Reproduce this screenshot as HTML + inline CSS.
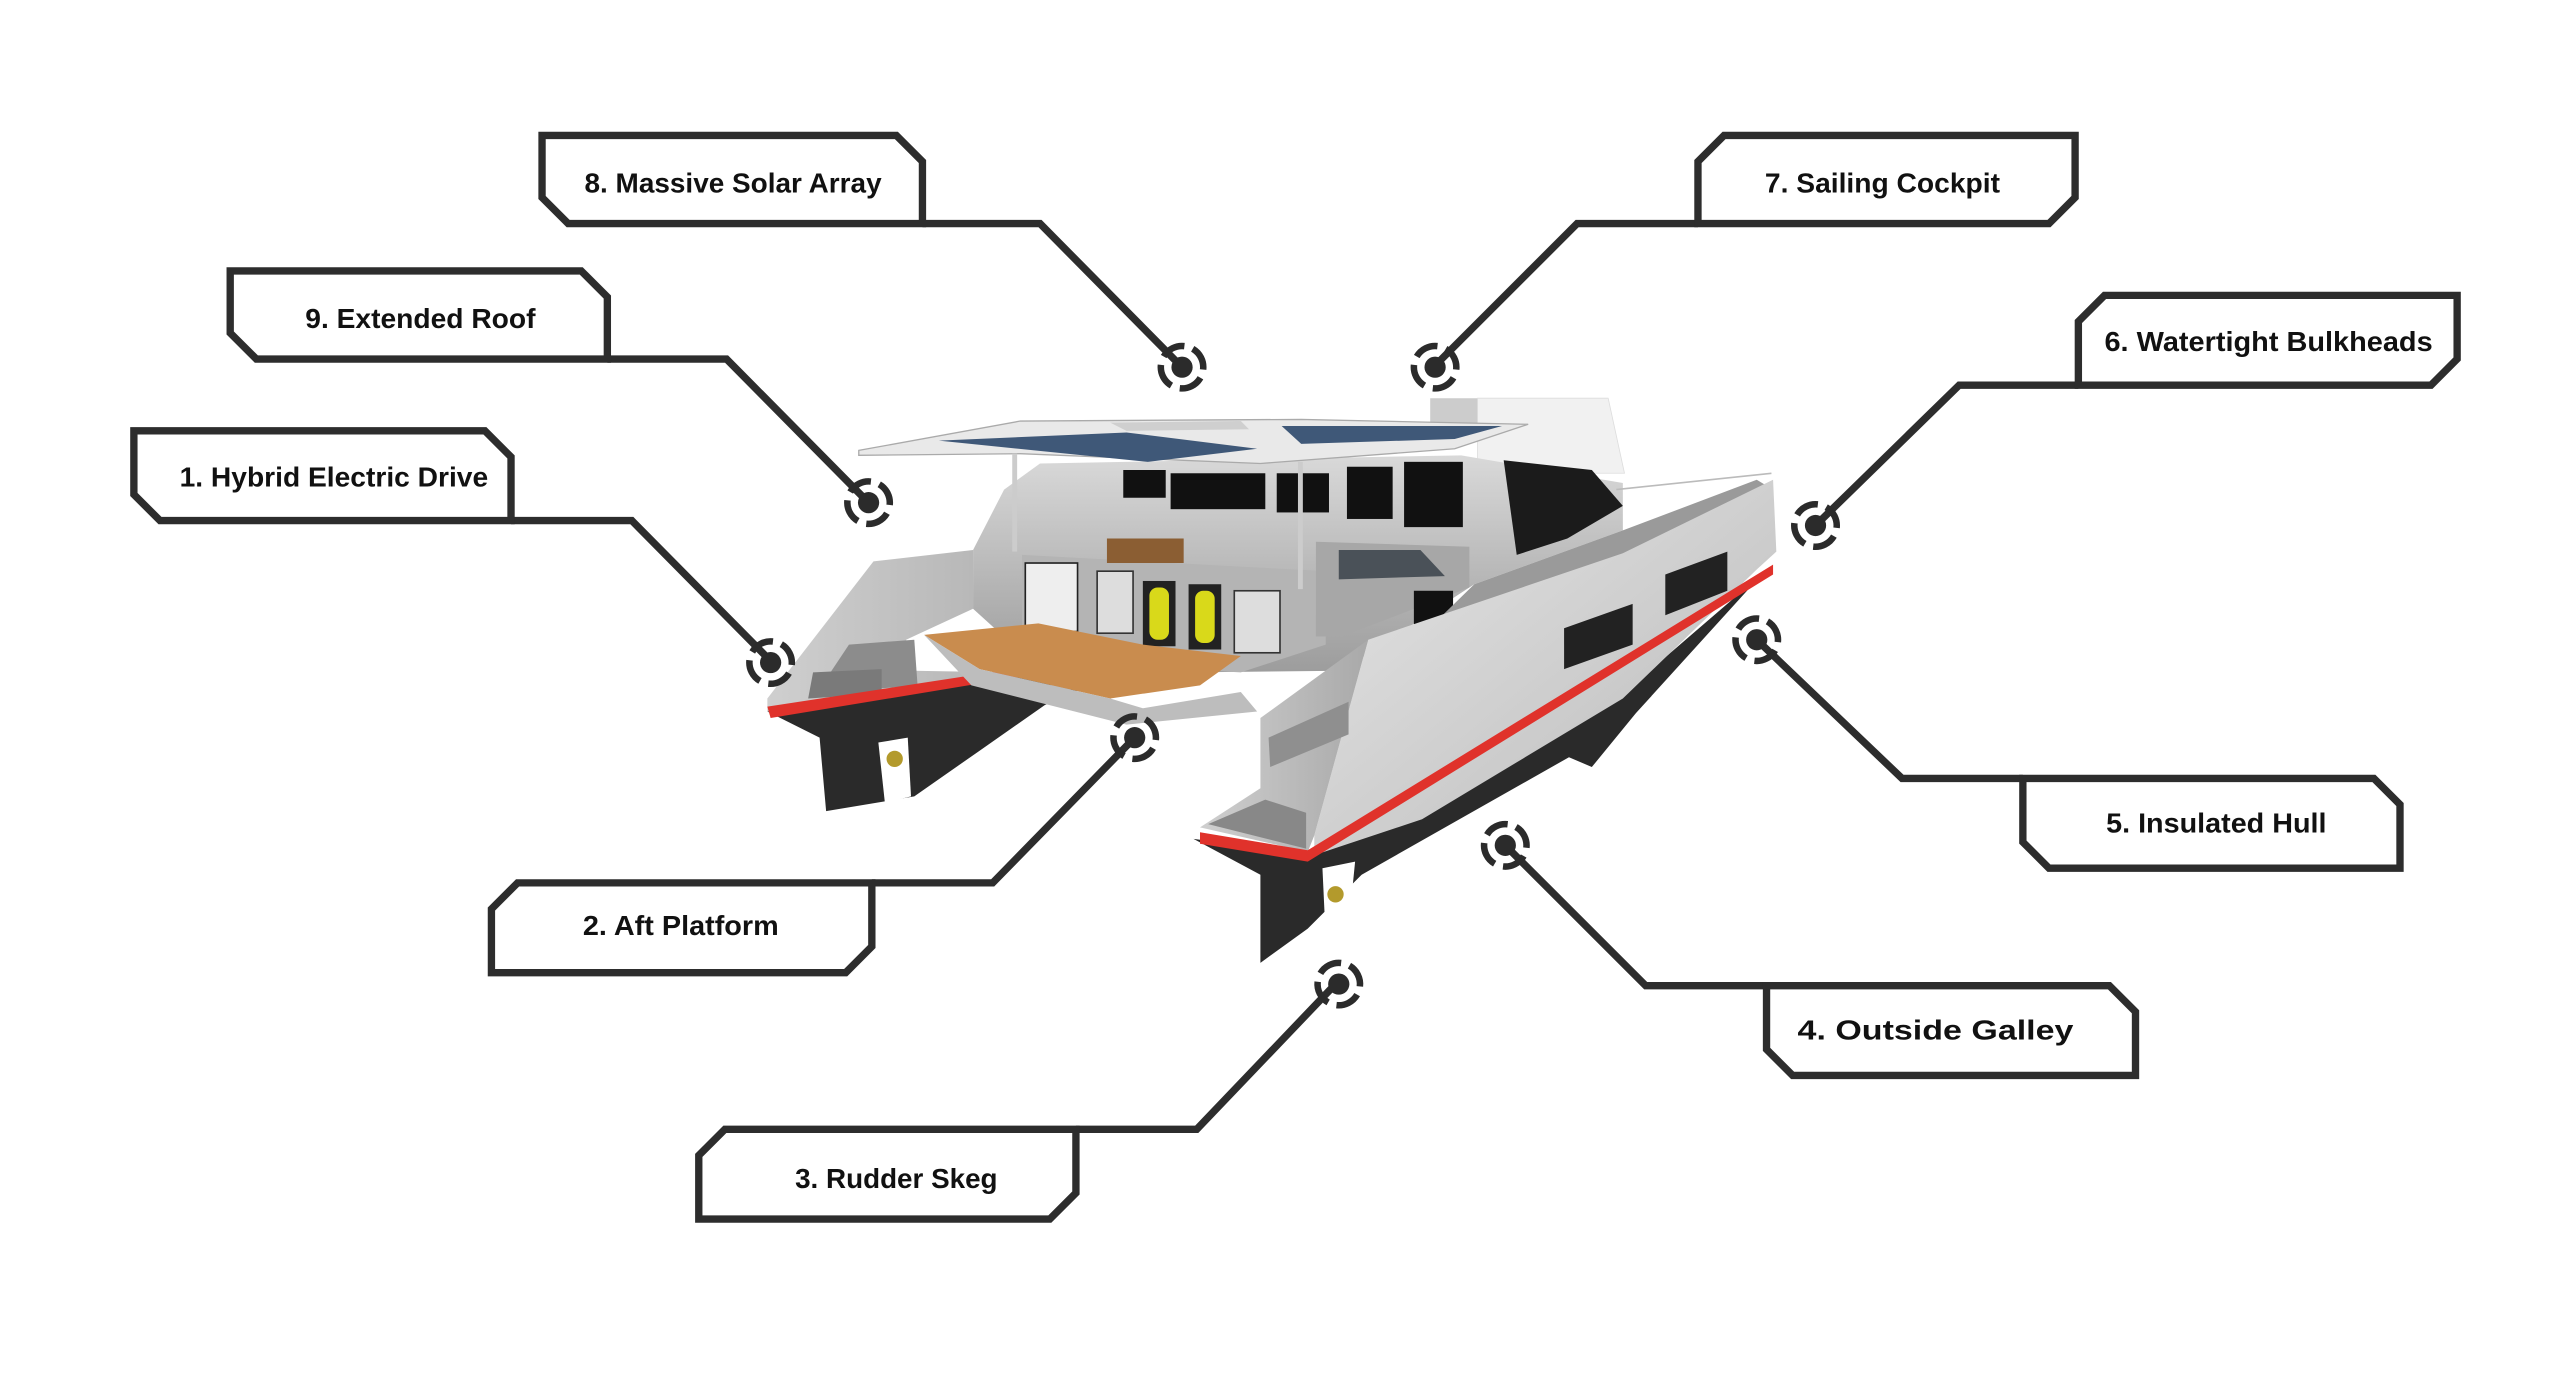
<!DOCTYPE html>
<html><head><meta charset="utf-8"><style>
html,body{margin:0;padding:0;background:#fff;}
svg{display:block;}
text{font-family:"Liberation Sans",sans-serif;font-weight:bold;font-size:17px;fill:#111;}
</style></head><body>
<svg width="2560" height="1379" viewBox="0 0 1568 845" preserveAspectRatio="none" xmlns="http://www.w3.org/2000/svg">
<defs>
<linearGradient id="side" x1="0" y1="0" x2="1" y2="1"><stop offset="0" stop-color="#e6e6e6"/><stop offset="1" stop-color="#b9b9b9"/></linearGradient>
<linearGradient id="stern" x1="0" y1="0" x2="1" y2="0"><stop offset="0" stop-color="#cfcfcf"/><stop offset="1" stop-color="#a9a9a9"/></linearGradient>
<linearGradient id="cab" x1="0" y1="0" x2="0" y2="1"><stop offset="0" stop-color="#d9d9d9"/><stop offset="1" stop-color="#9c9c9c"/></linearGradient>
<g id="tg"><circle r="6.5" fill="#2b2b2b"/><circle r="13" fill="none" stroke="#2b2b2b" stroke-width="4" stroke-dasharray="15 5.4" transform="rotate(30)"/></g>
</defs>

<!-- BOAT -->
<g>
<polygon points="876,244 905,244 905,262 876,262" fill="#ccc"/>
<polygon points="905,244 985,244 995,290 905,290" fill="#f1f1f1" stroke="#ddd" stroke-width="0.5"/>
<polygon points="470,436 502,452 506,497 560,488 600,460 640,432 676,416 633,411" fill="#2a2a2a"/>
<polygon points="470,428 535,344 596,337 596,373 555,392 559,411 680,413 650,425 633,411 470,436" fill="url(#stern)"/>
<polygon points="520,395 560,392 562,420 500,425" fill="#8c8c8c"/>
<polygon points="498,412 540,410 540,425 495,428" fill="#7a7a7a"/>
<polygon points="470,433 633,408 635,413 472,440" fill="#e0322b"/>
<polygon points="538,455 556,452 558,488 542,492" fill="#fff"/>
<circle cx="548" cy="465" r="5" fill="#b39a2c"/>
<polygon points="637,284 895,279 994,296 994,325 903,358 822,411 640,413 596,373 596,337 615,300" fill="url(#cab)"/>
<polygon points="626,340 812,350 812,395 760,412 626,405" fill="#b4b4b4"/>
<polygon points="806,332 900,335 900,360 822,390 806,390" fill="#a7a7a7"/>
<polygon points="820,337 870,337 885,353 820,355" fill="#4a5158"/>
<polygon points="678,330 725,330 725,345 678,345" fill="#8b5e33"/>
<rect x="628" y="345" width="32" height="42" fill="#eee" stroke="#222" stroke-width="1"/>
<rect x="672" y="350" width="22" height="38" fill="#ddd" stroke="#333" stroke-width="1"/>
<rect x="700" y="356" width="20" height="40" fill="#222"/>
<rect x="704" y="360" width="12" height="32" rx="5" fill="#d9d91a"/>
<rect x="728" y="358" width="20" height="40" fill="#222"/>
<rect x="732" y="362" width="12" height="32" rx="5" fill="#d9d91a"/>
<rect x="756" y="362" width="28" height="38" fill="#ddd" stroke="#333" stroke-width="1"/>
<polygon points="566,389 636,382 700,395 760,402 735,420 680,428 600,410" fill="#c98c4e"/>
<polygon points="566,389 600,410 680,428 700,434 760,424 770,436 690,444 595,420" fill="#bdbdbd"/>
<rect x="688" y="288" width="26" height="17" fill="#111"/>
<rect x="717" y="290" width="58" height="22" fill="#111"/>
<rect x="782" y="290" width="32" height="24" fill="#111"/>
<rect x="825" y="286" width="28" height="32" fill="#111"/>
<rect x="860" y="283" width="36" height="40" fill="#111"/>
<polygon points="921,282 975,288 994,310 960,330 929,340" fill="#1b1b1b"/>
<rect x="866" y="362" width="24" height="22" fill="#111"/>
<polygon points="526,276 625,258 797,257 936,260 891,275 772,284 625,278 526,279" fill="#e9e9e9" stroke="#aaa" stroke-width="0.8"/>
<polygon points="575,270 690,265 770,275 703,283" fill="#3f5878"/>
<polygon points="785,261 920,261 891,269 797,272" fill="#3f5878"/>
<polygon points="680,259 760,258 765,263 690,264" fill="#cfcfcf"/>
<rect x="620" y="278" width="3" height="60" fill="#ccc"/>
<rect x="795" y="283" width="3" height="78" fill="#ccc"/>
<polygon points="903,358 994,325 1076,294 1086,300 1076,342 1000,380 920,410 860,400" fill="#9a9a9a"/>
<polygon points="731,514 772,536 772,590 801,569 834,536 961,464 975,470 1002,437 1080,351 1000,420 805,524" fill="#2a2a2a"/>
<polygon points="805,512 838,392 994,339 1086,294 1088,338 1076,349 994,428 871,502 805,524" fill="url(#side)"/>
<polygon points="735,507 772,483 772,440 838,392 805,512 801,522" fill="url(#stern)"/>
<polygon points="740,505 775,490 800,498 800,520" fill="#888"/>
<polygon points="777,452 826,430 826,450 778,470" fill="#8f8f8f"/>
<polygon points="735,510 801,521 1086,346 1086,352 801,528 735,517" fill="#e0322b"/>
<polygon points="810,532 830,528 826,568 812,575" fill="#fff"/>
<circle cx="818" cy="548" r="5" fill="#b39a2c"/>
<polygon points="958,385 1000,370 1000,395 958,410" fill="#222"/>
<polygon points="1020,352 1058,338 1058,362 1020,377" fill="#222"/>
<polyline points="990,300 1085,290" stroke="#bbb" stroke-width="1" fill="none"/>
</g>

<g fill="none" stroke="#2d2d2d" stroke-width="4.5" stroke-linejoin="miter">
<polyline points="565,137 637,137 722,223"/>
<polyline points="372,220 445,220 530,306"/>
<polyline points="313,319 387,319 472,405"/>
<polyline points="534,541 608,541 695,452"/>
<polyline points="659,692 733,692 818,603"/>
<polyline points="1082,604 1008,604 922,518"/>
<polyline points="1239,477 1165,477 1076,392"/>
<polyline points="1273,236 1200,236 1112,322"/>
<polyline points="1040,137 966,137 880,223"/>
</g>

<g fill="#fff" stroke="#2d2d2d" stroke-width="4.5">
<polygon points="332,83 549,83 565,99 565,137 348,137 332,121"/>
<polygon points="141,166 356,166 372,182 372,220 157,220 141,204"/>
<polygon points="82,264 297,264 313,280 313,319 98,319 82,303"/>
<polygon points="317,541 534,541 534,580 518,596 301,596 301,557"/>
<polygon points="444,692 659,692 659,731 643,747 428,747 428,708"/>
<polygon points="1082,604 1292,604 1308,620 1308,659 1098,659 1082,643"/>
<polygon points="1239,477 1454,477 1470,493 1470,532 1255,532 1239,516"/>
<polygon points="1289,181 1505,181 1505,220 1489,236 1273,236 1273,197"/>
<polygon points="1056,83 1271,83 1271,121 1255,137 1040,137 1040,99"/>
</g>

<use href="#tg" x="724" y="225"/>
<use href="#tg" x="879" y="225"/>
<use href="#tg" x="532" y="308"/>
<use href="#tg" x="472" y="406"/>
<use href="#tg" x="695" y="452"/>
<use href="#tg" x="820" y="603"/>
<use href="#tg" x="922" y="518"/>
<use href="#tg" x="1076" y="392"/>
<use href="#tg" x="1112" y="322"/>

<text x="358" y="118" textLength="182" lengthAdjust="spacingAndGlyphs">8. Massive Solar Array</text>
<text x="187" y="201" textLength="141" lengthAdjust="spacingAndGlyphs">9. Extended Roof</text>
<text x="110" y="298" textLength="189" lengthAdjust="spacingAndGlyphs">1. Hybrid Electric Drive</text>
<text x="357" y="573" textLength="120" lengthAdjust="spacingAndGlyphs">2. Aft Platform</text>
<text x="487" y="728" textLength="124" lengthAdjust="spacingAndGlyphs">3. Rudder Skeg</text>
<text x="1101" y="637" textLength="169" lengthAdjust="spacingAndGlyphs">4. Outside Galley</text>
<text x="1290" y="510" textLength="135" lengthAdjust="spacingAndGlyphs">5. Insulated Hull</text>
<text x="1289" y="215" textLength="201" lengthAdjust="spacingAndGlyphs">6. Watertight Bulkheads</text>
<text x="1081" y="118" textLength="144" lengthAdjust="spacingAndGlyphs">7. Sailing Cockpit</text>
</svg>
</body></html>
